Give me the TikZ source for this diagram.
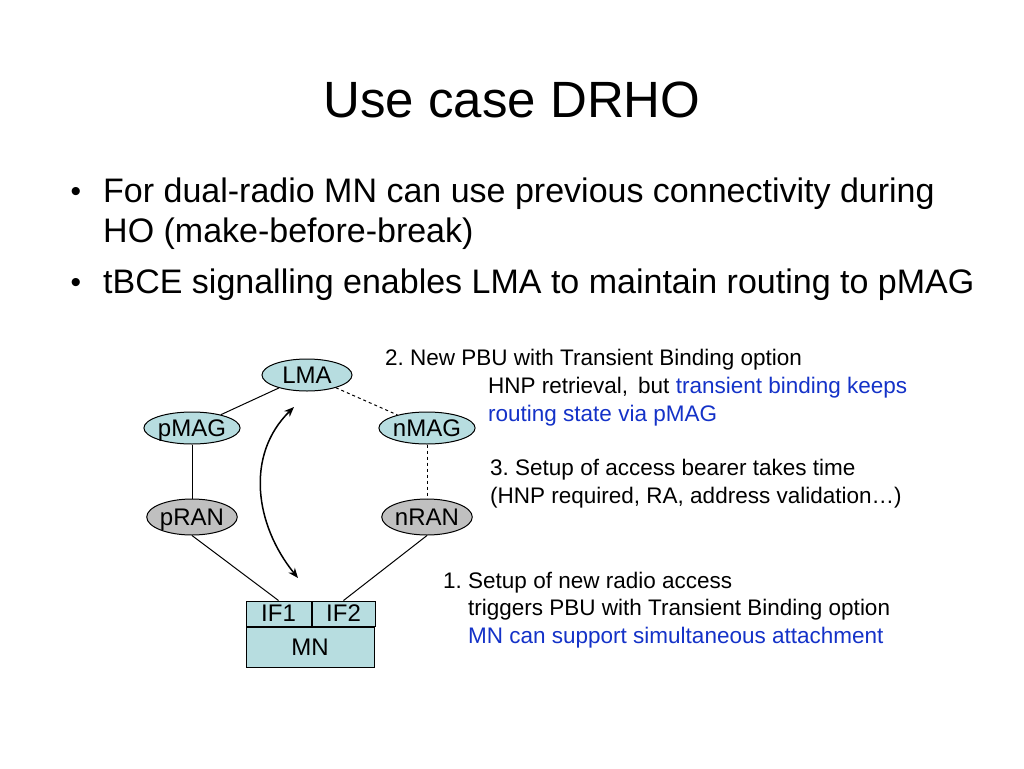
\documentclass[tikz,border=0pt]{standalone}
\usepackage{fontspec}
\setmainfont{Liberation Sans}
\usepackage{tikz}
\usetikzlibrary{positioning, arrows.meta, shapes.geometric}
\definecolor{textColor}{RGB}{0, 0, 0}
\definecolor{noteBlue}{RGB}{20, 50, 200}
\definecolor{nodeFill}{RGB}{183, 221, 224}
\definecolor{ranFill}{RGB}{192, 192, 192}
\tikzset{
    net_node/.style={
        ellipse,
        draw=black,
        line width=1pt,
        fill=nodeFill,
        inner sep=0pt,
        minimum width=90pt,
        minimum height=32pt,
        text height=17pt,
        text depth=0pt,
        font=\fontsize{24}{28}\selectfont
    },
    ran_node/.style={
        net_node,
        fill=ranFill,
        minimum height=36pt
    },
    mn_cell/.style={
        rectangle,
        draw=black,
        line width=1pt,
        fill=nodeFill,
        inner sep=0pt,
        font=\fontsize{24}{28}\selectfont
    },
    link_edge/.style={
        draw=black,
        line width=1pt
    },
    ho_edge/.style={
        {Stealth[length=10pt,width=8pt]}-{Stealth[length=10pt,width=8pt]},
        line width=1.5pt
    },
    bullet_text/.style={
        anchor=base west,
        inner sep=0pt,
        font=\fontsize{34}{40}\selectfont
    },
    note_text/.style={
        anchor=base west,
        inner sep=0pt,
        font=\fontsize{22.5}{27}\selectfont
    }
}
\frenchspacing

\begin{document}
\begin{tikzpicture}[x=1pt, y=-1pt]
    \useasboundingbox[fill=white] (0,0) rectangle (1024,768);

    % slide text
    \node[anchor=base, inner sep=0pt, font=\fontsize{51}{60}\selectfont] (title) at (512,117) {Use case DRHO};
    \node[bullet_text, anchor=base, font=\fontsize{30}{34}\selectfont] (dot1) at (76,201) {•};
    \node[bullet_text] (item1) at (103,202) {For dual-radio MN can use previous connectivity during};
    \node[bullet_text] (item1b) at (103,242) {HO (make-before-break)};
    \node[bullet_text, anchor=base, font=\fontsize{30}{34}\selectfont] (dot2) at (76,292) {•};
    \node[bullet_text] (item2) at (103,293) {tBCE signalling enables LMA to maintain routing to pMAG};

    % network
    \node[net_node] (LMA) at (307,375) {LMA};
    \node[net_node] (pMAG) at (192,428) {pMAG};
    \node[net_node, right of=pMAG, node distance=235pt] (nMAG) {nMAG};
    \node[ran_node, below of=pMAG, node distance=89pt] (pRAN) {pRAN};
    \node[ran_node, below of=nMAG, node distance=89pt] (nRAN) {nRAN};

    \node[mn_cell, minimum width=65pt, minimum height=25pt] (IF1) at (278.5,613.5) {IF1};
    \node[mn_cell, minimum width=63pt, minimum height=25pt, right=0pt of IF1] (IF2) {IF2};
    \node[mn_cell, minimum width=128pt, minimum height=40pt, below=0pt of IF1.south west, anchor=north west] (MN) {MN};

    \draw[link_edge] (LMA) -- (pMAG);
    \draw[link_edge, dashed] (LMA) -- (nMAG);
    \draw[link_edge] (pMAG) -- (pRAN);
    \draw[link_edge, dashed] (nMAG) -- (nRAN);
    \draw[link_edge] (pRAN.south) -- (IF1.north);
    \draw[link_edge] (nRAN.south) -- (IF2.north);

    \coordinate (hoTop) at (294,407);
    \coordinate (hoBot) at (298,578);
    \draw[ho_edge] (hoBot) .. controls (255,525) and (245,455) .. (hoTop);

    % notes
    \node[note_text] (step2a) at (385,365) {2. New PBU with Transient Binding option};
    \node[note_text] (step2b) at (488,393) {HNP retrieval,\, but \textcolor{noteBlue}{transient binding keeps}};
    \node[note_text, text=noteBlue] (step2c) at (488,421) {routing state via pMAG};
    \node[note_text] (step3a) at (490,475) {3. Setup of access bearer takes time};
    \node[note_text] (step3b) at (490,503) {(HNP required, RA, address validation…)};
    \node[note_text] (step1a) at (443,588) {1. Setup of new radio access};
    \node[note_text] (step1b) at (468,615) {triggers PBU with Transient Binding option};
    \node[note_text, text=noteBlue] (step1c) at (468,643) {MN can support simultaneous attachment};
\end{tikzpicture}
\end{document}
